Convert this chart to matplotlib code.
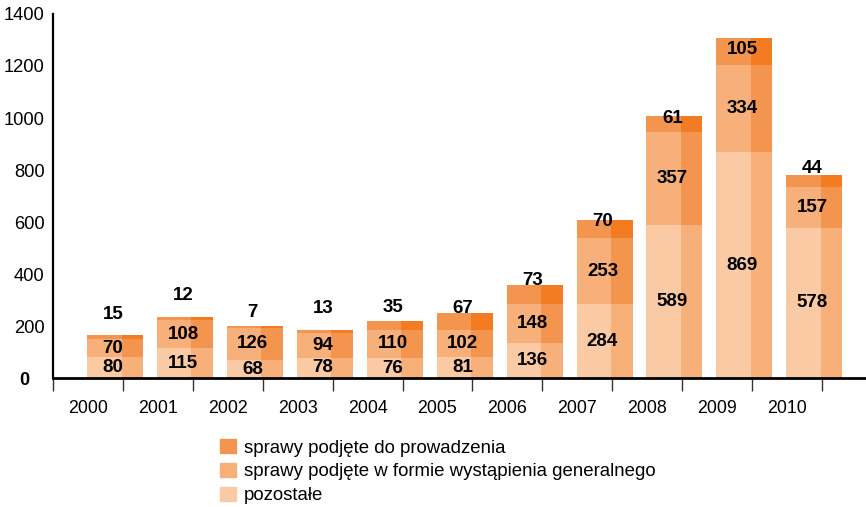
import numpy as np
import matplotlib
matplotlib.use('Agg')
import matplotlib.pyplot as plt
from matplotlib.patches import Patch

plt.rcParams['font.family'] = ['Liberation Sans', 'DejaVu Sans']

years = ['2000', '2001', '2002', '2003', '2004', '2005',
         '2006', '2007', '2008', '2009', '2010']
pozostale = np.array([80, 115, 68, 78, 76, 81, 136, 284, 589, 869, 578])
wystapienia = np.array([70, 108, 126, 94, 110, 102, 148, 253, 357, 334, 157])
prowadzenie = np.array([15, 12, 7, 13, 35, 67, 73, 70, 61, 105, 44])

labels = ['sprawy podjęte do prowadzenia',
          'sprawy podjęte w formie wystąpienia generalnego',
          'pozostałe']

# two tones per segment: (left, right)
c_poz = ('#F9CAA4', '#F8B07B')
c_wys = ('#F8B07B', '#F4954F')
c_pro = ('#F4954F', '#F37C22')

# how far the top label sits above the bar top, pixels
top_lift = [21, 21, 13, 21, 13, 5, 5, -1, -2, -12, 7]

fig = plt.figure(figsize=(8.66, 5.07), dpi=100)
ax = fig.add_axes([0.0612, 0.2544, 1 - 0.0612, 0.718])

x = np.arange(len(years))
split = x - 0.02
wl, wr = 0.49, 0.31

bottoms = np.zeros(len(years))
for vals, cols in [(pozostale, c_poz), (wystapienia, c_wys), (prowadzenie, c_pro)]:
    ax.bar(split, vals, width=-wl, align='edge', bottom=bottoms, color=cols[0], linewidth=0, zorder=2)
    ax.bar(split, vals, width=wr, align='edge', bottom=bottoms, color=cols[1], linewidth=0, zorder=2)
    bottoms = bottoms + vals

cx = split + (wr - wl) / 2 - 0.03
lbl = dict(ha='center', va='center', fontsize=13.5, fontweight='bold', zorder=3)
for i in range(len(years)):
    ax.text(cx[i], pozostale[i] / 2, str(pozostale[i]), **lbl)
    ax.text(cx[i], pozostale[i] + wystapienia[i] / 2, str(wystapienia[i]), **lbl)
    ax.annotate(str(prowadzenie[i]), (cx[i], bottoms[i]), xytext=(0, top_lift[i] * 0.72),
                textcoords='offset points', **lbl)

ax.set_ylim(0, 1400)
ax.set_xlim(-1, 10.63)

for s in ['top', 'right']:
    ax.spines[s].set_visible(False)
ax.spines['left'].set_linewidth(1.6)
ax.spines['bottom'].set_linewidth(2.0)
ax.spines['bottom'].set_zorder(4)

ax.set_yticks(np.arange(0, 1401, 200))
ax.set_yticklabels([''] + [str(v) for v in range(200, 1401, 200)])
ax.tick_params(axis='y', length=0, pad=6, labelsize=13.2)
ax.annotate('0', (0, 0), xycoords=('axes fraction', 'data'), xytext=(-21, -2),
            textcoords='offset points', ha='center', va='center',
            fontsize=13, fontweight='bold')

ax.set_xticks(np.arange(-1, len(years)))
ax.set_xticklabels([])
ax.tick_params(axis='x', which='major', length=9, width=1.0, color='#333333')
ax.set_xticks(x - 0.5, minor=True)
ax.set_xticklabels(years, minor=True)
ax.tick_params(axis='x', which='minor', length=0, pad=16, labelsize=12.8)

handles = [Patch(color=c_pro[0]), Patch(color=c_wys[0]), Patch(color=c_poz[0])]
fig.legend(handles, labels, loc='upper left', bbox_to_anchor=(0.254, 0.134),
           frameon=False, fontsize=13.4, handlelength=0.85, handleheight=0.8,
           handletextpad=0.45, labelspacing=0.33, borderaxespad=0, borderpad=0)

fig.savefig('out.png', dpi=100)
